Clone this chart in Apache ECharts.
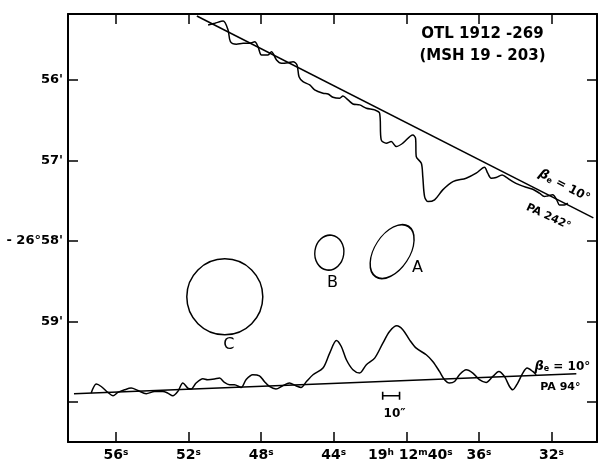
<!DOCTYPE html>
<html>
<head>
<meta charset="utf-8">
<title>OTL 1912-269 (MSH 19-203)</title>
<script src="https://cdn.jsdelivr.net/npm/echarts@6/dist/echarts.min.js"></script>
<style>
  html, body { margin: 0; padding: 0; background: #fff; }
  #chart { width: 598px; height: 463px; }
</style>
</head>
<body>
<div id="chart"></div>
<script>
// x: right ascension, seconds of time after 19h 12m
// y: declination, arcmin below -26 deg (grows downward)
const raTicks = [56, 52, 48, 44, 40, 36, 32]
const decTicks = [56, 57, 58, 59, 60]

// scan at PA 242 deg and its baseline
const topBaseline = [[51.54, 55.205], [29.69, 57.714]]
const topProfile = [
  [50.92, 55.317], [50.55, 55.295], [50.09, 55.267], [49.82, 55.379], [49.69, 55.524],
  [49.36, 55.556], [48.99, 55.544], [48.62, 55.544], [48.35, 55.524], [48.17, 55.586],
  [47.98, 55.689], [47.62, 55.689], [47.43, 55.648], [47.15, 55.751], [46.88, 55.792],
  [46.52, 55.785], [46.24, 55.772], [46.02, 55.813], [45.91, 55.959], [45.69, 56.021],
  [45.32, 56.062], [45.05, 56.124], [44.59, 56.165], [44.31, 56.174], [44.04, 56.215],
  [43.67, 56.227], [43.49, 56.199], [43.21, 56.248], [42.94, 56.298], [42.57, 56.310],
  [42.20, 56.351], [41.74, 56.372], [41.47, 56.413], [41.38, 56.745], [41.10, 56.786],
  [40.83, 56.766], [40.55, 56.828], [40.19, 56.786], [39.64, 56.683], [39.49, 56.724],
  [39.45, 56.953], [39.17, 57.035], [39.09, 57.201], [38.99, 57.449], [38.81, 57.512],
  [38.44, 57.490], [37.99, 57.366], [37.43, 57.263], [36.70, 57.221], [36.15, 57.159],
  [35.69, 57.084], [35.51, 57.159], [35.32, 57.221], [35.05, 57.213], [34.72, 57.180],
  [34.50, 57.208], [34.13, 57.263], [33.76, 57.304], [33.40, 57.333], [33.03, 57.358],
  [32.66, 57.407], [32.39, 57.449], [32.21, 57.441], [31.93, 57.428], [31.71, 57.490],
  [31.56, 57.553], [31.29, 57.553], [31.10, 57.531]
]

// scan at PA 94 deg and its baseline
const bottomBaseline = [[58.31, 59.900], [30.63, 59.652]]
const bottomProfile = [
  [57.36, 59.892], [57.08, 59.780], [56.81, 59.810], [56.44, 59.884], [56.16, 59.925],
  [55.89, 59.884], [55.52, 59.851], [55.16, 59.830], [54.79, 59.859], [54.33, 59.900],
  [53.87, 59.872], [53.41, 59.872], [53.14, 59.892], [52.86, 59.925], [52.59, 59.872],
  [52.31, 59.767], [52.04, 59.830], [51.86, 59.842], [51.58, 59.767], [51.21, 59.714],
  [50.94, 59.726], [50.57, 59.718], [50.29, 59.705], [50.02, 59.760], [49.74, 59.789],
  [49.47, 59.789], [49.10, 59.822], [48.83, 59.726], [48.46, 59.664], [48.09, 59.677],
  [47.82, 59.748], [47.54, 59.810], [47.18, 59.842], [46.81, 59.801], [46.44, 59.767],
  [46.08, 59.801], [45.80, 59.822], [45.50, 59.748], [45.14, 59.664], [44.59, 59.581],
  [44.22, 59.395], [43.85, 59.238], [43.58, 59.313], [43.30, 59.478], [42.94, 59.602],
  [42.57, 59.643], [42.20, 59.540], [41.74, 59.457], [41.29, 59.271], [40.92, 59.126],
  [40.52, 59.056], [40.19, 59.105], [39.82, 59.230], [39.45, 59.333], [38.90, 59.416],
  [38.54, 59.499], [38.17, 59.623], [37.89, 59.726], [37.62, 59.767], [37.34, 59.748],
  [37.07, 59.664], [36.70, 59.602], [36.33, 59.643], [35.97, 59.726], [35.60, 59.760],
  [35.23, 59.685], [34.90, 59.623], [34.59, 59.685], [34.31, 59.810], [34.13, 59.851],
  [33.86, 59.767], [33.58, 59.643], [33.34, 59.581], [33.03, 59.623], [32.84, 59.664]
]

// 10 arcsec scale bar
const scaleBar = [[41.30, 59.925], [40.37, 59.925]]

// source components
const sourceNames = ['A', 'B', 'C']
const sourceRa = [40.78, 44.24, 50.00]
const sourceDec = [58.133, 58.146, 58.695]

// text notes
const noteText = ['A', 'B', 'C', '10″', 'OTL 1912 -269', '(MSH 19 - 203)',
  '{i|β}{e|e}{t| = 10°}', 'PA 242°', '{i|β}{e|e}{t| = 10°}', 'PA 94°']
const noteRa = [39.38, 44.06, 49.78, 40.64, 35.80, 35.80, 31.29, 32.17, 31.40, 31.51]
const noteDec = [58.335, 58.522, 59.298, 60.149, 55.428, 55.702, 57.317, 57.702, 59.565, 59.813]

const ink = '#000'
const font = 'DejaVu Sans'

const sourceStyle = {
  A: { size: [35, 60], rotate: -33 },
  B: { size: [29, 35], rotate: -8 },
  C: { size: [76, 76], rotate: 0 }
}
const noteStyle = [
  { fontSize: 16 }, { fontSize: 16 }, { fontSize: 16 }, { fontSize: 12, fontWeight: 'bold' },
  { fontSize: 15, fontWeight: 'bold' }, { fontSize: 15, fontWeight: 'bold' },
  { fontSize: 12, rotate: -28 }, { fontSize: 11, fontWeight: 'bold', rotate: -25 },
  { fontSize: 12 }, { fontSize: 11, fontWeight: 'bold' }
]

const ellipsePath = 'path://M0,50A50,50,0,1,1,100,50A50,50,0,1,1,0,50Z'

const chart = echarts.init(document.getElementById('chart'), null, { renderer: 'canvas' })

function raLabel(v) {
  if (v === 40) return '{g| }{n|19}{s|h}{n| 12}{s|m}{n|40}{s|s}'
  return '{n|' + v + '}{s|s}'
}

function decLabel(v) {
  if (v === 58) return "- 26°58'"
  if (v === 60) return ''
  return v + "'"
}

const xBase = {
  type: 'value',
  inverse: true,
  min: 29.49,
  max: 58.64,
  axisLine: { lineStyle: { color: ink, width: 2 } },
  axisTick: { inside: true, length: 10, customValues: raTicks, lineStyle: { color: ink, width: 1.5 } },
  splitLine: { show: false }
}
const yBase = {
  type: 'value',
  inverse: true,
  min: 55.18,
  max: 60.5,
  axisLine: { show: true, lineStyle: { color: ink, width: 2 } },
  axisTick: { show: true, inside: true, length: 10, customValues: decTicks, lineStyle: { color: ink, width: 1.5 } },
  splitLine: { show: false }
}

const lineStyle = { color: ink, width: 1.5 }

const option = {
  backgroundColor: '#fff',
  animation: false,
  grid: { left: 68, right: 1, top: 14, bottom: 21 },
  xAxis: [
    {
      ...xBase,
      position: 'bottom',
      axisLabel: {
        customValues: raTicks,
        formatter: raLabel,
        margin: 6,
        color: ink,
        rich: {
          n: { fontFamily: font, fontSize: 14, fontWeight: 'bold', color: ink },
          s: { fontFamily: font, fontSize: 9, fontWeight: 'bold', color: ink, verticalAlign: 'top' },
          g: { width: 8 }
        }
      }
    },
    { ...xBase, position: 'top', axisLabel: { show: false } }
  ],
  yAxis: [
    {
      ...yBase,
      position: 'left',
      axisLabel: {
        customValues: decTicks,
        formatter: decLabel,
        margin: 5,
        color: ink,
        fontFamily: font,
        fontSize: 13,
        fontWeight: 'bold'
      }
    },
    { ...yBase, position: 'right', axisLabel: { show: false } }
  ],
  series: [
    { type: 'line', data: topBaseline, symbol: 'none', silent: true, lineStyle },
    { type: 'line', data: topProfile, symbol: 'none', smooth: 0.3, silent: true, lineStyle },
    { type: 'line', data: bottomBaseline, symbol: 'none', silent: true, lineStyle },
    { type: 'line', data: bottomProfile, symbol: 'none', smooth: 0.3, silent: true, lineStyle },
    {
      type: 'line',
      data: scaleBar,
      symbol: 'rect',
      symbolSize: [1.6, 8],
      silent: true,
      itemStyle: { color: ink },
      lineStyle: { color: ink, width: 1.6 }
    },
    {
      type: 'scatter',
      silent: true,
      symbol: ellipsePath,
      data: sourceNames.map((n, i) => ({
        name: n,
        value: [sourceRa[i], sourceDec[i]],
        symbolSize: sourceStyle[n].size,
        symbolRotate: sourceStyle[n].rotate
      })),
      itemStyle: { color: 'rgba(0,0,0,0)', borderColor: ink, borderWidth: 1.5, opacity: 1 }
    },
    {
      type: 'scatter',
      silent: true,
      symbolSize: 1,
      itemStyle: { color: 'rgba(0,0,0,0)', opacity: 1 },
      label: {
        show: true,
        position: 'inside',
        formatter: '{b}',
        color: ink,
        fontFamily: font,
        rich: {
          i: { fontFamily: font, fontSize: 13, fontStyle: 'italic', fontWeight: 'bold', color: ink },
          e: { fontFamily: font, fontSize: 8, fontWeight: 'bold', color: ink, verticalAlign: 'bottom' },
          t: { fontFamily: font, fontSize: 12, fontWeight: 'bold', color: ink }
        }
      },
      data: noteText.map((t, i) => ({
        name: t,
        value: [noteRa[i], noteDec[i]],
        label: noteStyle[i]
      }))
    }
  ]
}

chart.setOption(option)
window.addEventListener('resize', () => chart.resize())
</script>
</body>
</html>
